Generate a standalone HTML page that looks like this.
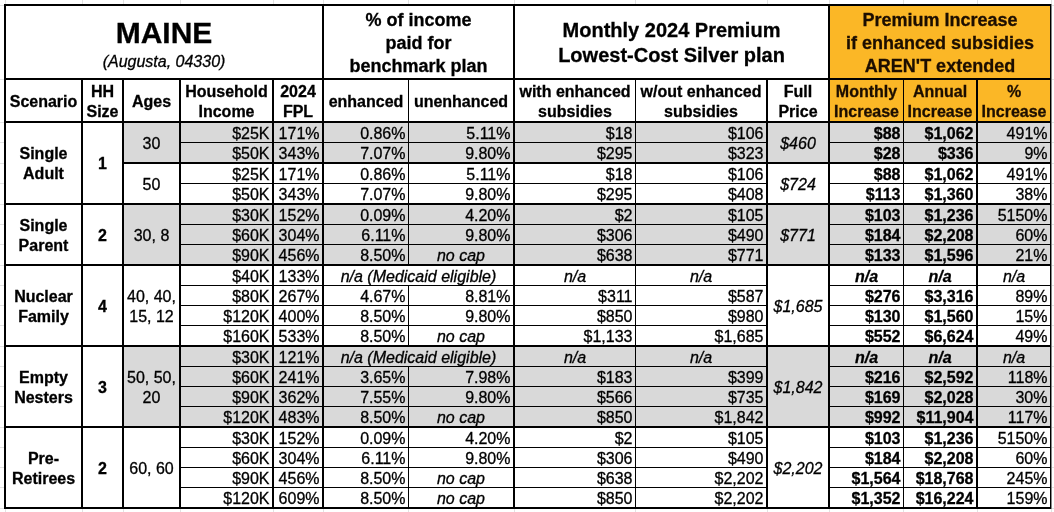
<!DOCTYPE html>
<html><head><meta charset="utf-8"><style>
html,body{margin:0;padding:0;background:#fff;}
body{width:1054px;height:512px;position:relative;overflow:hidden;font-family:"Liberation Sans",sans-serif;color:#000;}
.r{position:absolute;}
.t{position:absolute;white-space:nowrap;-webkit-text-stroke:0.3px #000;}
#tx{position:absolute;left:0;top:0;width:1054px;height:512px;will-change:transform;}
</style></head><body>
<div class="r" style="left:124px;top:123px;width:926px;height:39px;background:#d9d9d9"></div>
<div class="r" style="left:124px;top:205px;width:926px;height:59px;background:#d9d9d9"></div>
<div class="r" style="left:124px;top:347px;width:926px;height:79px;background:#d9d9d9"></div>
<div class="r" style="left:830px;top:6px;width:220px;height:115px;background:#fbb726"></div>
<div class="r" style="left:4px;top:4px;width:1048px;height:2px;background:#000"></div>
<div class="r" style="left:4px;top:78px;width:1048px;height:2px;background:#000"></div>
<div class="r" style="left:4px;top:121px;width:1048px;height:2px;background:#000"></div>
<div class="r" style="left:4px;top:203px;width:1048px;height:2px;background:#000"></div>
<div class="r" style="left:4px;top:264px;width:1048px;height:2px;background:#000"></div>
<div class="r" style="left:4px;top:345px;width:1048px;height:2px;background:#000"></div>
<div class="r" style="left:4px;top:426px;width:1048px;height:2px;background:#000"></div>
<div class="r" style="left:4px;top:507px;width:1048px;height:2px;background:#000"></div>
<div class="r" style="left:122px;top:162px;width:930px;height:2px;background:#000"></div>
<div class="r" style="left:179px;top:142px;width:589px;height:1px;background:#000"></div>
<div class="r" style="left:828px;top:142px;width:224px;height:1px;background:#000"></div>
<div class="r" style="left:179px;top:183px;width:589px;height:1px;background:#000"></div>
<div class="r" style="left:828px;top:183px;width:224px;height:1px;background:#000"></div>
<div class="r" style="left:179px;top:224px;width:589px;height:1px;background:#000"></div>
<div class="r" style="left:828px;top:224px;width:224px;height:1px;background:#000"></div>
<div class="r" style="left:179px;top:244px;width:589px;height:1px;background:#000"></div>
<div class="r" style="left:828px;top:244px;width:224px;height:1px;background:#000"></div>
<div class="r" style="left:179px;top:285px;width:589px;height:1px;background:#000"></div>
<div class="r" style="left:828px;top:285px;width:224px;height:1px;background:#000"></div>
<div class="r" style="left:179px;top:305px;width:589px;height:1px;background:#000"></div>
<div class="r" style="left:828px;top:305px;width:224px;height:1px;background:#000"></div>
<div class="r" style="left:179px;top:325px;width:589px;height:1px;background:#000"></div>
<div class="r" style="left:828px;top:325px;width:224px;height:1px;background:#000"></div>
<div class="r" style="left:179px;top:366px;width:589px;height:1px;background:#000"></div>
<div class="r" style="left:828px;top:366px;width:224px;height:1px;background:#000"></div>
<div class="r" style="left:179px;top:386px;width:589px;height:1px;background:#000"></div>
<div class="r" style="left:828px;top:386px;width:224px;height:1px;background:#000"></div>
<div class="r" style="left:179px;top:406px;width:589px;height:1px;background:#000"></div>
<div class="r" style="left:828px;top:406px;width:224px;height:1px;background:#000"></div>
<div class="r" style="left:179px;top:447px;width:589px;height:1px;background:#000"></div>
<div class="r" style="left:828px;top:447px;width:224px;height:1px;background:#000"></div>
<div class="r" style="left:179px;top:467px;width:589px;height:1px;background:#000"></div>
<div class="r" style="left:828px;top:467px;width:224px;height:1px;background:#000"></div>
<div class="r" style="left:179px;top:487px;width:589px;height:1px;background:#000"></div>
<div class="r" style="left:828px;top:487px;width:224px;height:1px;background:#000"></div>
<div class="r" style="left:4px;top:4px;width:2px;height:505px;background:#000"></div>
<div class="r" style="left:322px;top:4px;width:2px;height:505px;background:#000"></div>
<div class="r" style="left:513px;top:4px;width:2px;height:505px;background:#000"></div>
<div class="r" style="left:828px;top:4px;width:2px;height:505px;background:#000"></div>
<div class="r" style="left:1050px;top:4px;width:1px;height:505px;background:#000"></div>
<div class="r" style="left:1051px;top:4px;width:1px;height:505px;background:#888"></div>
<div class="r" style="left:81px;top:78px;width:2px;height:431px;background:#000"></div>
<div class="r" style="left:122px;top:78px;width:2px;height:431px;background:#000"></div>
<div class="r" style="left:179px;top:78px;width:2px;height:431px;background:#000"></div>
<div class="r" style="left:272px;top:78px;width:2px;height:431px;background:#000"></div>
<div class="r" style="left:635px;top:78px;width:1px;height:431px;background:#000"></div>
<div class="r" style="left:766px;top:78px;width:2px;height:431px;background:#000"></div>
<div class="r" style="left:903px;top:78px;width:1px;height:431px;background:#000"></div>
<div class="r" style="left:976px;top:78px;width:2px;height:431px;background:#000"></div>
<div class="r" style="left:408px;top:78px;width:1px;height:188px;background:#000"></div>
<div class="r" style="left:408px;top:285px;width:1px;height:62px;background:#000"></div>
<div class="r" style="left:408px;top:366px;width:1px;height:143px;background:#000"></div>
<div class="r" style="left:5px;top:0px;width:1px;height:4px;background:#e2e2e2"></div>
<div class="r" style="left:5px;top:509px;width:1px;height:3px;background:#e2e2e2"></div>
<div class="r" style="left:82px;top:0px;width:1px;height:4px;background:#e2e2e2"></div>
<div class="r" style="left:82px;top:509px;width:1px;height:3px;background:#e2e2e2"></div>
<div class="r" style="left:123px;top:0px;width:1px;height:4px;background:#e2e2e2"></div>
<div class="r" style="left:123px;top:509px;width:1px;height:3px;background:#e2e2e2"></div>
<div class="r" style="left:180px;top:0px;width:1px;height:4px;background:#e2e2e2"></div>
<div class="r" style="left:180px;top:509px;width:1px;height:3px;background:#e2e2e2"></div>
<div class="r" style="left:273px;top:0px;width:1px;height:4px;background:#e2e2e2"></div>
<div class="r" style="left:273px;top:509px;width:1px;height:3px;background:#e2e2e2"></div>
<div class="r" style="left:323px;top:0px;width:1px;height:4px;background:#e2e2e2"></div>
<div class="r" style="left:323px;top:509px;width:1px;height:3px;background:#e2e2e2"></div>
<div class="r" style="left:408px;top:0px;width:1px;height:4px;background:#e2e2e2"></div>
<div class="r" style="left:408px;top:509px;width:1px;height:3px;background:#e2e2e2"></div>
<div class="r" style="left:514px;top:0px;width:1px;height:4px;background:#e2e2e2"></div>
<div class="r" style="left:514px;top:509px;width:1px;height:3px;background:#e2e2e2"></div>
<div class="r" style="left:635px;top:0px;width:1px;height:4px;background:#e2e2e2"></div>
<div class="r" style="left:635px;top:509px;width:1px;height:3px;background:#e2e2e2"></div>
<div class="r" style="left:767px;top:0px;width:1px;height:4px;background:#e2e2e2"></div>
<div class="r" style="left:767px;top:509px;width:1px;height:3px;background:#e2e2e2"></div>
<div class="r" style="left:829px;top:0px;width:1px;height:4px;background:#e2e2e2"></div>
<div class="r" style="left:829px;top:509px;width:1px;height:3px;background:#e2e2e2"></div>
<div class="r" style="left:903px;top:0px;width:1px;height:4px;background:#e2e2e2"></div>
<div class="r" style="left:903px;top:509px;width:1px;height:3px;background:#e2e2e2"></div>
<div class="r" style="left:977px;top:0px;width:1px;height:4px;background:#e2e2e2"></div>
<div class="r" style="left:977px;top:509px;width:1px;height:3px;background:#e2e2e2"></div>
<div class="r" style="left:1051px;top:0px;width:1px;height:4px;background:#e2e2e2"></div>
<div class="r" style="left:1051px;top:509px;width:1px;height:3px;background:#e2e2e2"></div>
<div class="r" style="left:0px;top:5px;width:4px;height:1px;background:#e2e2e2"></div>
<div class="r" style="left:1052px;top:5px;width:2px;height:1px;background:#e2e2e2"></div>
<div class="r" style="left:0px;top:79px;width:4px;height:1px;background:#e2e2e2"></div>
<div class="r" style="left:1052px;top:79px;width:2px;height:1px;background:#e2e2e2"></div>
<div class="r" style="left:0px;top:122px;width:4px;height:1px;background:#e2e2e2"></div>
<div class="r" style="left:1052px;top:122px;width:2px;height:1px;background:#e2e2e2"></div>
<div class="r" style="left:0px;top:142px;width:4px;height:1px;background:#e2e2e2"></div>
<div class="r" style="left:1052px;top:142px;width:2px;height:1px;background:#e2e2e2"></div>
<div class="r" style="left:0px;top:163px;width:4px;height:1px;background:#e2e2e2"></div>
<div class="r" style="left:1052px;top:163px;width:2px;height:1px;background:#e2e2e2"></div>
<div class="r" style="left:0px;top:183px;width:4px;height:1px;background:#e2e2e2"></div>
<div class="r" style="left:1052px;top:183px;width:2px;height:1px;background:#e2e2e2"></div>
<div class="r" style="left:0px;top:204px;width:4px;height:1px;background:#e2e2e2"></div>
<div class="r" style="left:1052px;top:204px;width:2px;height:1px;background:#e2e2e2"></div>
<div class="r" style="left:0px;top:224px;width:4px;height:1px;background:#e2e2e2"></div>
<div class="r" style="left:1052px;top:224px;width:2px;height:1px;background:#e2e2e2"></div>
<div class="r" style="left:0px;top:244px;width:4px;height:1px;background:#e2e2e2"></div>
<div class="r" style="left:1052px;top:244px;width:2px;height:1px;background:#e2e2e2"></div>
<div class="r" style="left:0px;top:265px;width:4px;height:1px;background:#e2e2e2"></div>
<div class="r" style="left:1052px;top:265px;width:2px;height:1px;background:#e2e2e2"></div>
<div class="r" style="left:0px;top:285px;width:4px;height:1px;background:#e2e2e2"></div>
<div class="r" style="left:1052px;top:285px;width:2px;height:1px;background:#e2e2e2"></div>
<div class="r" style="left:0px;top:305px;width:4px;height:1px;background:#e2e2e2"></div>
<div class="r" style="left:1052px;top:305px;width:2px;height:1px;background:#e2e2e2"></div>
<div class="r" style="left:0px;top:325px;width:4px;height:1px;background:#e2e2e2"></div>
<div class="r" style="left:1052px;top:325px;width:2px;height:1px;background:#e2e2e2"></div>
<div class="r" style="left:0px;top:346px;width:4px;height:1px;background:#e2e2e2"></div>
<div class="r" style="left:1052px;top:346px;width:2px;height:1px;background:#e2e2e2"></div>
<div class="r" style="left:0px;top:366px;width:4px;height:1px;background:#e2e2e2"></div>
<div class="r" style="left:1052px;top:366px;width:2px;height:1px;background:#e2e2e2"></div>
<div class="r" style="left:0px;top:386px;width:4px;height:1px;background:#e2e2e2"></div>
<div class="r" style="left:1052px;top:386px;width:2px;height:1px;background:#e2e2e2"></div>
<div class="r" style="left:0px;top:406px;width:4px;height:1px;background:#e2e2e2"></div>
<div class="r" style="left:1052px;top:406px;width:2px;height:1px;background:#e2e2e2"></div>
<div class="r" style="left:0px;top:427px;width:4px;height:1px;background:#e2e2e2"></div>
<div class="r" style="left:1052px;top:427px;width:2px;height:1px;background:#e2e2e2"></div>
<div class="r" style="left:0px;top:447px;width:4px;height:1px;background:#e2e2e2"></div>
<div class="r" style="left:1052px;top:447px;width:2px;height:1px;background:#e2e2e2"></div>
<div class="r" style="left:0px;top:467px;width:4px;height:1px;background:#e2e2e2"></div>
<div class="r" style="left:1052px;top:467px;width:2px;height:1px;background:#e2e2e2"></div>
<div class="r" style="left:0px;top:487px;width:4px;height:1px;background:#e2e2e2"></div>
<div class="r" style="left:1052px;top:487px;width:2px;height:1px;background:#e2e2e2"></div>
<div class="r" style="left:0px;top:508px;width:4px;height:1px;background:#e2e2e2"></div>
<div class="r" style="left:1052px;top:508px;width:2px;height:1px;background:#e2e2e2"></div>
<div id="tx">
<div class="t" style="top:124.46px;right:784.5px;text-align:right;font-size:16px;line-height:20px">$25K</div>
<div class="t" style="top:124.46px;right:734.5px;text-align:right;font-size:16px;line-height:20px">171%</div>
<div class="t" style="top:124.46px;right:648.5px;text-align:right;font-size:16px;line-height:20px">0.86%</div>
<div class="t" style="top:124.46px;right:543.5px;text-align:right;font-size:16px;line-height:20px">5.11%</div>
<div class="t" style="top:124.46px;right:421.5px;text-align:right;font-size:16px;line-height:20px">$18</div>
<div class="t" style="top:124.46px;right:290.5px;text-align:right;font-size:16px;line-height:20px">$106</div>
<div class="t" style="top:124.46px;right:153.5px;text-align:right;font-size:16px;line-height:20px;font-weight:bold">$88</div>
<div class="t" style="top:124.46px;right:80.5px;text-align:right;font-size:16px;line-height:20px;font-weight:bold">$1,062</div>
<div class="t" style="top:124.46px;right:6.5px;text-align:right;font-size:16px;line-height:20px">491%</div>
<div class="t" style="top:144.46px;right:784.5px;text-align:right;font-size:16px;line-height:20px">$50K</div>
<div class="t" style="top:144.46px;right:734.5px;text-align:right;font-size:16px;line-height:20px">343%</div>
<div class="t" style="top:144.46px;right:648.5px;text-align:right;font-size:16px;line-height:20px">7.07%</div>
<div class="t" style="top:144.46px;right:543.5px;text-align:right;font-size:16px;line-height:20px">9.80%</div>
<div class="t" style="top:144.46px;right:421.5px;text-align:right;font-size:16px;line-height:20px">$295</div>
<div class="t" style="top:144.46px;right:290.5px;text-align:right;font-size:16px;line-height:20px">$323</div>
<div class="t" style="top:144.46px;right:153.5px;text-align:right;font-size:16px;line-height:20px;font-weight:bold">$28</div>
<div class="t" style="top:144.46px;right:80.5px;text-align:right;font-size:16px;line-height:20px;font-weight:bold">$336</div>
<div class="t" style="top:144.46px;right:6.5px;text-align:right;font-size:16px;line-height:20px">9%</div>
<div class="t" style="top:165.46px;right:784.5px;text-align:right;font-size:16px;line-height:20px">$25K</div>
<div class="t" style="top:165.46px;right:734.5px;text-align:right;font-size:16px;line-height:20px">171%</div>
<div class="t" style="top:165.46px;right:648.5px;text-align:right;font-size:16px;line-height:20px">0.86%</div>
<div class="t" style="top:165.46px;right:543.5px;text-align:right;font-size:16px;line-height:20px">5.11%</div>
<div class="t" style="top:165.46px;right:421.5px;text-align:right;font-size:16px;line-height:20px">$18</div>
<div class="t" style="top:165.46px;right:290.5px;text-align:right;font-size:16px;line-height:20px">$106</div>
<div class="t" style="top:165.46px;right:153.5px;text-align:right;font-size:16px;line-height:20px;font-weight:bold">$88</div>
<div class="t" style="top:165.46px;right:80.5px;text-align:right;font-size:16px;line-height:20px;font-weight:bold">$1,062</div>
<div class="t" style="top:165.46px;right:6.5px;text-align:right;font-size:16px;line-height:20px">491%</div>
<div class="t" style="top:185.46px;right:784.5px;text-align:right;font-size:16px;line-height:20px">$50K</div>
<div class="t" style="top:185.46px;right:734.5px;text-align:right;font-size:16px;line-height:20px">343%</div>
<div class="t" style="top:185.46px;right:648.5px;text-align:right;font-size:16px;line-height:20px">7.07%</div>
<div class="t" style="top:185.46px;right:543.5px;text-align:right;font-size:16px;line-height:20px">9.80%</div>
<div class="t" style="top:185.46px;right:421.5px;text-align:right;font-size:16px;line-height:20px">$295</div>
<div class="t" style="top:185.46px;right:290.5px;text-align:right;font-size:16px;line-height:20px">$408</div>
<div class="t" style="top:185.46px;right:153.5px;text-align:right;font-size:16px;line-height:20px;font-weight:bold">$113</div>
<div class="t" style="top:185.46px;right:80.5px;text-align:right;font-size:16px;line-height:20px;font-weight:bold">$1,360</div>
<div class="t" style="top:185.46px;right:6.5px;text-align:right;font-size:16px;line-height:20px">38%</div>
<div class="t" style="top:206.46px;right:784.5px;text-align:right;font-size:16px;line-height:20px">$30K</div>
<div class="t" style="top:206.46px;right:734.5px;text-align:right;font-size:16px;line-height:20px">152%</div>
<div class="t" style="top:206.46px;right:648.5px;text-align:right;font-size:16px;line-height:20px">0.09%</div>
<div class="t" style="top:206.46px;right:543.5px;text-align:right;font-size:16px;line-height:20px">4.20%</div>
<div class="t" style="top:206.46px;right:421.5px;text-align:right;font-size:16px;line-height:20px">$2</div>
<div class="t" style="top:206.46px;right:290.5px;text-align:right;font-size:16px;line-height:20px">$105</div>
<div class="t" style="top:206.46px;right:153.5px;text-align:right;font-size:16px;line-height:20px;font-weight:bold">$103</div>
<div class="t" style="top:206.46px;right:80.5px;text-align:right;font-size:16px;line-height:20px;font-weight:bold">$1,236</div>
<div class="t" style="top:206.46px;right:6.5px;text-align:right;font-size:16px;line-height:20px">5150%</div>
<div class="t" style="top:226.46px;right:784.5px;text-align:right;font-size:16px;line-height:20px">$60K</div>
<div class="t" style="top:226.46px;right:734.5px;text-align:right;font-size:16px;line-height:20px">304%</div>
<div class="t" style="top:226.46px;right:648.5px;text-align:right;font-size:16px;line-height:20px">6.11%</div>
<div class="t" style="top:226.46px;right:543.5px;text-align:right;font-size:16px;line-height:20px">9.80%</div>
<div class="t" style="top:226.46px;right:421.5px;text-align:right;font-size:16px;line-height:20px">$306</div>
<div class="t" style="top:226.46px;right:290.5px;text-align:right;font-size:16px;line-height:20px">$490</div>
<div class="t" style="top:226.46px;right:153.5px;text-align:right;font-size:16px;line-height:20px;font-weight:bold">$184</div>
<div class="t" style="top:226.46px;right:80.5px;text-align:right;font-size:16px;line-height:20px;font-weight:bold">$2,208</div>
<div class="t" style="top:226.46px;right:6.5px;text-align:right;font-size:16px;line-height:20px">60%</div>
<div class="t" style="top:246.46px;right:784.5px;text-align:right;font-size:16px;line-height:20px">$90K</div>
<div class="t" style="top:246.46px;right:734.5px;text-align:right;font-size:16px;line-height:20px">456%</div>
<div class="t" style="top:246.46px;right:648.5px;text-align:right;font-size:16px;line-height:20px">8.50%</div>
<div class="t" style="top:246.46px;left:409px;width:104px;text-align:center;font-size:16px;line-height:20px;font-style:italic">no cap</div>
<div class="t" style="top:246.46px;right:421.5px;text-align:right;font-size:16px;line-height:20px">$638</div>
<div class="t" style="top:246.46px;right:290.5px;text-align:right;font-size:16px;line-height:20px">$771</div>
<div class="t" style="top:246.46px;right:153.5px;text-align:right;font-size:16px;line-height:20px;font-weight:bold">$133</div>
<div class="t" style="top:246.46px;right:80.5px;text-align:right;font-size:16px;line-height:20px;font-weight:bold">$1,596</div>
<div class="t" style="top:246.46px;right:6.5px;text-align:right;font-size:16px;line-height:20px">21%</div>
<div class="t" style="top:267.46px;right:784.5px;text-align:right;font-size:16px;line-height:20px">$40K</div>
<div class="t" style="top:267.46px;right:734.5px;text-align:right;font-size:16px;line-height:20px">133%</div>
<div class="t" style="top:267.46px;left:324px;width:189px;text-align:center;font-size:16px;line-height:20px;font-style:italic">n/a (Medicaid eligible)</div>
<div class="t" style="top:267.46px;left:515px;width:120px;text-align:center;font-size:16px;line-height:20px;font-style:italic">n/a</div>
<div class="t" style="top:267.46px;left:636px;width:130px;text-align:center;font-size:16px;line-height:20px;font-style:italic">n/a</div>
<div class="t" style="top:267.46px;left:830px;width:73px;text-align:center;font-size:16px;line-height:20px;font-weight:bold;font-style:italic">n/a</div>
<div class="t" style="top:267.46px;left:904px;width:72px;text-align:center;font-size:16px;line-height:20px;font-weight:bold;font-style:italic">n/a</div>
<div class="t" style="top:267.46px;left:978px;width:72px;text-align:center;font-size:16px;line-height:20px;font-style:italic">n/a</div>
<div class="t" style="top:287.46px;right:784.5px;text-align:right;font-size:16px;line-height:20px">$80K</div>
<div class="t" style="top:287.46px;right:734.5px;text-align:right;font-size:16px;line-height:20px">267%</div>
<div class="t" style="top:287.46px;right:648.5px;text-align:right;font-size:16px;line-height:20px">4.67%</div>
<div class="t" style="top:287.46px;right:543.5px;text-align:right;font-size:16px;line-height:20px">8.81%</div>
<div class="t" style="top:287.46px;right:421.5px;text-align:right;font-size:16px;line-height:20px">$311</div>
<div class="t" style="top:287.46px;right:290.5px;text-align:right;font-size:16px;line-height:20px">$587</div>
<div class="t" style="top:287.46px;right:153.5px;text-align:right;font-size:16px;line-height:20px;font-weight:bold">$276</div>
<div class="t" style="top:287.46px;right:80.5px;text-align:right;font-size:16px;line-height:20px;font-weight:bold">$3,316</div>
<div class="t" style="top:287.46px;right:6.5px;text-align:right;font-size:16px;line-height:20px">89%</div>
<div class="t" style="top:307.46px;right:784.5px;text-align:right;font-size:16px;line-height:20px">$120K</div>
<div class="t" style="top:307.46px;right:734.5px;text-align:right;font-size:16px;line-height:20px">400%</div>
<div class="t" style="top:307.46px;right:648.5px;text-align:right;font-size:16px;line-height:20px">8.50%</div>
<div class="t" style="top:307.46px;right:543.5px;text-align:right;font-size:16px;line-height:20px">9.80%</div>
<div class="t" style="top:307.46px;right:421.5px;text-align:right;font-size:16px;line-height:20px">$850</div>
<div class="t" style="top:307.46px;right:290.5px;text-align:right;font-size:16px;line-height:20px">$980</div>
<div class="t" style="top:307.46px;right:153.5px;text-align:right;font-size:16px;line-height:20px;font-weight:bold">$130</div>
<div class="t" style="top:307.46px;right:80.5px;text-align:right;font-size:16px;line-height:20px;font-weight:bold">$1,560</div>
<div class="t" style="top:307.46px;right:6.5px;text-align:right;font-size:16px;line-height:20px">15%</div>
<div class="t" style="top:327.46px;right:784.5px;text-align:right;font-size:16px;line-height:20px">$160K</div>
<div class="t" style="top:327.46px;right:734.5px;text-align:right;font-size:16px;line-height:20px">533%</div>
<div class="t" style="top:327.46px;right:648.5px;text-align:right;font-size:16px;line-height:20px">8.50%</div>
<div class="t" style="top:327.46px;left:409px;width:104px;text-align:center;font-size:16px;line-height:20px;font-style:italic">no cap</div>
<div class="t" style="top:327.46px;right:421.5px;text-align:right;font-size:16px;line-height:20px">$1,133</div>
<div class="t" style="top:327.46px;right:290.5px;text-align:right;font-size:16px;line-height:20px">$1,685</div>
<div class="t" style="top:327.46px;right:153.5px;text-align:right;font-size:16px;line-height:20px;font-weight:bold">$552</div>
<div class="t" style="top:327.46px;right:80.5px;text-align:right;font-size:16px;line-height:20px;font-weight:bold">$6,624</div>
<div class="t" style="top:327.46px;right:6.5px;text-align:right;font-size:16px;line-height:20px">49%</div>
<div class="t" style="top:348.46px;right:784.5px;text-align:right;font-size:16px;line-height:20px">$30K</div>
<div class="t" style="top:348.46px;right:734.5px;text-align:right;font-size:16px;line-height:20px">121%</div>
<div class="t" style="top:348.46px;left:324px;width:189px;text-align:center;font-size:16px;line-height:20px;font-style:italic">n/a (Medicaid eligible)</div>
<div class="t" style="top:348.46px;left:515px;width:120px;text-align:center;font-size:16px;line-height:20px;font-style:italic">n/a</div>
<div class="t" style="top:348.46px;left:636px;width:130px;text-align:center;font-size:16px;line-height:20px;font-style:italic">n/a</div>
<div class="t" style="top:348.46px;left:830px;width:73px;text-align:center;font-size:16px;line-height:20px;font-weight:bold;font-style:italic">n/a</div>
<div class="t" style="top:348.46px;left:904px;width:72px;text-align:center;font-size:16px;line-height:20px;font-weight:bold;font-style:italic">n/a</div>
<div class="t" style="top:348.46px;left:978px;width:72px;text-align:center;font-size:16px;line-height:20px;font-style:italic">n/a</div>
<div class="t" style="top:368.46px;right:784.5px;text-align:right;font-size:16px;line-height:20px">$60K</div>
<div class="t" style="top:368.46px;right:734.5px;text-align:right;font-size:16px;line-height:20px">241%</div>
<div class="t" style="top:368.46px;right:648.5px;text-align:right;font-size:16px;line-height:20px">3.65%</div>
<div class="t" style="top:368.46px;right:543.5px;text-align:right;font-size:16px;line-height:20px">7.98%</div>
<div class="t" style="top:368.46px;right:421.5px;text-align:right;font-size:16px;line-height:20px">$183</div>
<div class="t" style="top:368.46px;right:290.5px;text-align:right;font-size:16px;line-height:20px">$399</div>
<div class="t" style="top:368.46px;right:153.5px;text-align:right;font-size:16px;line-height:20px;font-weight:bold">$216</div>
<div class="t" style="top:368.46px;right:80.5px;text-align:right;font-size:16px;line-height:20px;font-weight:bold">$2,592</div>
<div class="t" style="top:368.46px;right:6.5px;text-align:right;font-size:16px;line-height:20px">118%</div>
<div class="t" style="top:388.46px;right:784.5px;text-align:right;font-size:16px;line-height:20px">$90K</div>
<div class="t" style="top:388.46px;right:734.5px;text-align:right;font-size:16px;line-height:20px">362%</div>
<div class="t" style="top:388.46px;right:648.5px;text-align:right;font-size:16px;line-height:20px">7.55%</div>
<div class="t" style="top:388.46px;right:543.5px;text-align:right;font-size:16px;line-height:20px">9.80%</div>
<div class="t" style="top:388.46px;right:421.5px;text-align:right;font-size:16px;line-height:20px">$566</div>
<div class="t" style="top:388.46px;right:290.5px;text-align:right;font-size:16px;line-height:20px">$735</div>
<div class="t" style="top:388.46px;right:153.5px;text-align:right;font-size:16px;line-height:20px;font-weight:bold">$169</div>
<div class="t" style="top:388.46px;right:80.5px;text-align:right;font-size:16px;line-height:20px;font-weight:bold">$2,028</div>
<div class="t" style="top:388.46px;right:6.5px;text-align:right;font-size:16px;line-height:20px">30%</div>
<div class="t" style="top:408.46px;right:784.5px;text-align:right;font-size:16px;line-height:20px">$120K</div>
<div class="t" style="top:408.46px;right:734.5px;text-align:right;font-size:16px;line-height:20px">483%</div>
<div class="t" style="top:408.46px;right:648.5px;text-align:right;font-size:16px;line-height:20px">8.50%</div>
<div class="t" style="top:408.46px;left:409px;width:104px;text-align:center;font-size:16px;line-height:20px;font-style:italic">no cap</div>
<div class="t" style="top:408.46px;right:421.5px;text-align:right;font-size:16px;line-height:20px">$850</div>
<div class="t" style="top:408.46px;right:290.5px;text-align:right;font-size:16px;line-height:20px">$1,842</div>
<div class="t" style="top:408.46px;right:153.5px;text-align:right;font-size:16px;line-height:20px;font-weight:bold">$992</div>
<div class="t" style="top:408.46px;right:80.5px;text-align:right;font-size:16px;line-height:20px;font-weight:bold">$11,904</div>
<div class="t" style="top:408.46px;right:6.5px;text-align:right;font-size:16px;line-height:20px">117%</div>
<div class="t" style="top:429.46px;right:784.5px;text-align:right;font-size:16px;line-height:20px">$30K</div>
<div class="t" style="top:429.46px;right:734.5px;text-align:right;font-size:16px;line-height:20px">152%</div>
<div class="t" style="top:429.46px;right:648.5px;text-align:right;font-size:16px;line-height:20px">0.09%</div>
<div class="t" style="top:429.46px;right:543.5px;text-align:right;font-size:16px;line-height:20px">4.20%</div>
<div class="t" style="top:429.46px;right:421.5px;text-align:right;font-size:16px;line-height:20px">$2</div>
<div class="t" style="top:429.46px;right:290.5px;text-align:right;font-size:16px;line-height:20px">$105</div>
<div class="t" style="top:429.46px;right:153.5px;text-align:right;font-size:16px;line-height:20px;font-weight:bold">$103</div>
<div class="t" style="top:429.46px;right:80.5px;text-align:right;font-size:16px;line-height:20px;font-weight:bold">$1,236</div>
<div class="t" style="top:429.46px;right:6.5px;text-align:right;font-size:16px;line-height:20px">5150%</div>
<div class="t" style="top:449.46px;right:784.5px;text-align:right;font-size:16px;line-height:20px">$60K</div>
<div class="t" style="top:449.46px;right:734.5px;text-align:right;font-size:16px;line-height:20px">304%</div>
<div class="t" style="top:449.46px;right:648.5px;text-align:right;font-size:16px;line-height:20px">6.11%</div>
<div class="t" style="top:449.46px;right:543.5px;text-align:right;font-size:16px;line-height:20px">9.80%</div>
<div class="t" style="top:449.46px;right:421.5px;text-align:right;font-size:16px;line-height:20px">$306</div>
<div class="t" style="top:449.46px;right:290.5px;text-align:right;font-size:16px;line-height:20px">$490</div>
<div class="t" style="top:449.46px;right:153.5px;text-align:right;font-size:16px;line-height:20px;font-weight:bold">$184</div>
<div class="t" style="top:449.46px;right:80.5px;text-align:right;font-size:16px;line-height:20px;font-weight:bold">$2,208</div>
<div class="t" style="top:449.46px;right:6.5px;text-align:right;font-size:16px;line-height:20px">60%</div>
<div class="t" style="top:469.46px;right:784.5px;text-align:right;font-size:16px;line-height:20px">$90K</div>
<div class="t" style="top:469.46px;right:734.5px;text-align:right;font-size:16px;line-height:20px">456%</div>
<div class="t" style="top:469.46px;right:648.5px;text-align:right;font-size:16px;line-height:20px">8.50%</div>
<div class="t" style="top:469.46px;left:409px;width:104px;text-align:center;font-size:16px;line-height:20px;font-style:italic">no cap</div>
<div class="t" style="top:469.46px;right:421.5px;text-align:right;font-size:16px;line-height:20px">$638</div>
<div class="t" style="top:469.46px;right:290.5px;text-align:right;font-size:16px;line-height:20px">$2,202</div>
<div class="t" style="top:469.46px;right:153.5px;text-align:right;font-size:16px;line-height:20px;font-weight:bold">$1,564</div>
<div class="t" style="top:469.46px;right:80.5px;text-align:right;font-size:16px;line-height:20px;font-weight:bold">$18,768</div>
<div class="t" style="top:469.46px;right:6.5px;text-align:right;font-size:16px;line-height:20px">245%</div>
<div class="t" style="top:489.46px;right:784.5px;text-align:right;font-size:16px;line-height:20px">$120K</div>
<div class="t" style="top:489.46px;right:734.5px;text-align:right;font-size:16px;line-height:20px">609%</div>
<div class="t" style="top:489.46px;right:648.5px;text-align:right;font-size:16px;line-height:20px">8.50%</div>
<div class="t" style="top:489.46px;left:409px;width:104px;text-align:center;font-size:16px;line-height:20px;font-style:italic">no cap</div>
<div class="t" style="top:489.46px;right:421.5px;text-align:right;font-size:16px;line-height:20px">$850</div>
<div class="t" style="top:489.46px;right:290.5px;text-align:right;font-size:16px;line-height:20px">$2,202</div>
<div class="t" style="top:489.46px;right:153.5px;text-align:right;font-size:16px;line-height:20px;font-weight:bold">$1,352</div>
<div class="t" style="top:489.46px;right:80.5px;text-align:right;font-size:16px;line-height:20px;font-weight:bold">$16,224</div>
<div class="t" style="top:489.46px;right:6.5px;text-align:right;font-size:16px;line-height:20px">159%</div>
<div class="t" style="left:6px;width:75px;top:144.00px;text-align:center;font-size:16px;line-height:20px;font-weight:bold">Single<br>Adult</div>
<div class="t" style="left:83px;width:39px;top:154.00px;text-align:center;font-size:16px;line-height:20px;font-weight:bold">1</div>
<div class="t" style="left:6px;width:75px;top:215.50px;text-align:center;font-size:16px;line-height:20px;font-weight:bold">Single<br>Parent</div>
<div class="t" style="left:83px;width:39px;top:225.50px;text-align:center;font-size:16px;line-height:20px;font-weight:bold">2</div>
<div class="t" style="left:6px;width:75px;top:286.50px;text-align:center;font-size:16px;line-height:20px;font-weight:bold">Nuclear<br>Family</div>
<div class="t" style="left:83px;width:39px;top:296.50px;text-align:center;font-size:16px;line-height:20px;font-weight:bold">4</div>
<div class="t" style="left:6px;width:75px;top:367.50px;text-align:center;font-size:16px;line-height:20px;font-weight:bold">Empty<br>Nesters</div>
<div class="t" style="left:83px;width:39px;top:377.50px;text-align:center;font-size:16px;line-height:20px;font-weight:bold">3</div>
<div class="t" style="left:6px;width:75px;top:448.50px;text-align:center;font-size:16px;line-height:20px;font-weight:bold">Pre-<br>Retirees</div>
<div class="t" style="left:83px;width:39px;top:458.50px;text-align:center;font-size:16px;line-height:20px;font-weight:bold">2</div>
<div class="t" style="left:124px;width:55px;top:133.50px;text-align:center;font-size:16px;line-height:20px">30</div>
<div class="t" style="left:124px;width:55px;top:174.50px;text-align:center;font-size:16px;line-height:20px">50</div>
<div class="t" style="left:124px;width:55px;top:225.50px;text-align:center;font-size:16px;line-height:20px">30, 8</div>
<div class="t" style="left:124px;width:55px;top:286.50px;text-align:center;font-size:16px;line-height:20px">40, 40,<br>15, 12</div>
<div class="t" style="left:124px;width:55px;top:367.50px;text-align:center;font-size:16px;line-height:20px">50, 50,<br>20</div>
<div class="t" style="left:124px;width:55px;top:458.50px;text-align:center;font-size:16px;line-height:20px">60, 60</div>
<div class="t" style="left:768px;width:60px;top:133.50px;text-align:center;font-size:16px;line-height:20px;font-style:italic">$460</div>
<div class="t" style="left:768px;width:60px;top:174.50px;text-align:center;font-size:16px;line-height:20px;font-style:italic">$724</div>
<div class="t" style="left:768px;width:60px;top:225.50px;text-align:center;font-size:16px;line-height:20px;font-style:italic">$771</div>
<div class="t" style="left:768px;width:60px;top:296.50px;text-align:center;font-size:16px;line-height:20px;font-style:italic">$1,685</div>
<div class="t" style="left:768px;width:60px;top:377.50px;text-align:center;font-size:16px;line-height:20px;font-style:italic">$1,842</div>
<div class="t" style="left:768px;width:60px;top:458.50px;text-align:center;font-size:16px;line-height:20px;font-style:italic">$2,202</div>
<div class="t" style="left:6px;width:75px;top:91.50px;text-align:center;font-size:16px;line-height:20px;font-weight:bold">Scenario</div>
<div class="t" style="left:83px;width:39px;top:81.50px;text-align:center;font-size:16px;line-height:20px;font-weight:bold">HH<br>Size</div>
<div class="t" style="left:124px;width:55px;top:91.50px;text-align:center;font-size:16px;line-height:20px;font-weight:bold">Ages</div>
<div class="t" style="left:181px;width:91px;top:81.50px;text-align:center;font-size:16px;line-height:20px;font-weight:bold">Household<br>Income</div>
<div class="t" style="left:274px;width:48px;top:81.50px;text-align:center;font-size:16px;line-height:20px;font-weight:bold">2024<br>FPL</div>
<div class="t" style="left:324px;width:84px;top:91.50px;text-align:center;font-size:16px;line-height:20px;font-weight:bold">enhanced</div>
<div class="t" style="left:409px;width:104px;top:91.50px;text-align:center;font-size:16px;line-height:20px;font-weight:bold">unenhanced</div>
<div class="t" style="left:515px;width:120px;top:81.50px;text-align:center;font-size:16px;line-height:20px;font-weight:bold">with enhanced<br>subsidies</div>
<div class="t" style="left:636px;width:130px;top:81.50px;text-align:center;font-size:16px;line-height:20px;font-weight:bold">w/out enhanced<br>subsidies</div>
<div class="t" style="left:768px;width:60px;top:81.50px;text-align:center;font-size:16px;line-height:20px;font-weight:bold">Full<br>Price</div>
<div class="t" style="left:830px;width:73px;top:81.50px;text-align:center;font-size:16px;line-height:20px;font-weight:bold;color:#1c0e00;-webkit-text-stroke-color:#1c0e00">Monthly<br>Increase</div>
<div class="t" style="left:904px;width:72px;top:81.50px;text-align:center;font-size:16px;line-height:20px;font-weight:bold;color:#1c0e00;-webkit-text-stroke-color:#1c0e00">Annual<br>Increase</div>
<div class="t" style="left:978px;width:72px;top:81.50px;text-align:center;font-size:16px;line-height:20px;font-weight:bold;color:#1c0e00;-webkit-text-stroke-color:#1c0e00">%<br>Increase</div>
<div class="t" style="top:16.11px;left:6px;width:316px;text-align:center;font-size:30px;line-height:34px;font-weight:bold">MAINE</div>
<div class="t" style="top:52.46px;left:6px;width:316px;text-align:center;font-size:16px;line-height:20px;font-style:italic">(Augusta, 04330)</div>
<div class="t" style="top:9.36px;left:324px;width:189px;text-align:center;font-size:18px;line-height:22px;font-weight:bold">% of income</div>
<div class="t" style="top:32.36px;left:324px;width:189px;text-align:center;font-size:18px;line-height:22px;font-weight:bold">paid for</div>
<div class="t" style="top:55.36px;left:324px;width:189px;text-align:center;font-size:18px;line-height:22px;font-weight:bold">benchmark plan</div>
<div class="t" style="top:18.07px;left:515px;width:313px;text-align:center;font-size:20px;line-height:24px;font-weight:bold">Monthly 2024 Premium</div>
<div class="t" style="top:42.87px;left:515px;width:313px;text-align:center;font-size:20px;line-height:24px;font-weight:bold">Lowest-Cost Silver plan</div>
<div class="t" style="top:9.36px;left:830px;width:220px;text-align:center;font-size:18px;line-height:22px;font-weight:bold;color:#1c0e00;-webkit-text-stroke-color:#1c0e00">Premium Increase</div>
<div class="t" style="top:32.36px;left:830px;width:220px;text-align:center;font-size:18px;line-height:22px;font-weight:bold;color:#1c0e00;-webkit-text-stroke-color:#1c0e00">if enhanced subsidies</div>
<div class="t" style="top:55.36px;left:830px;width:220px;text-align:center;font-size:18px;line-height:22px;font-weight:bold;color:#1c0e00;-webkit-text-stroke-color:#1c0e00">AREN'T extended</div>
</div>
</body></html>
